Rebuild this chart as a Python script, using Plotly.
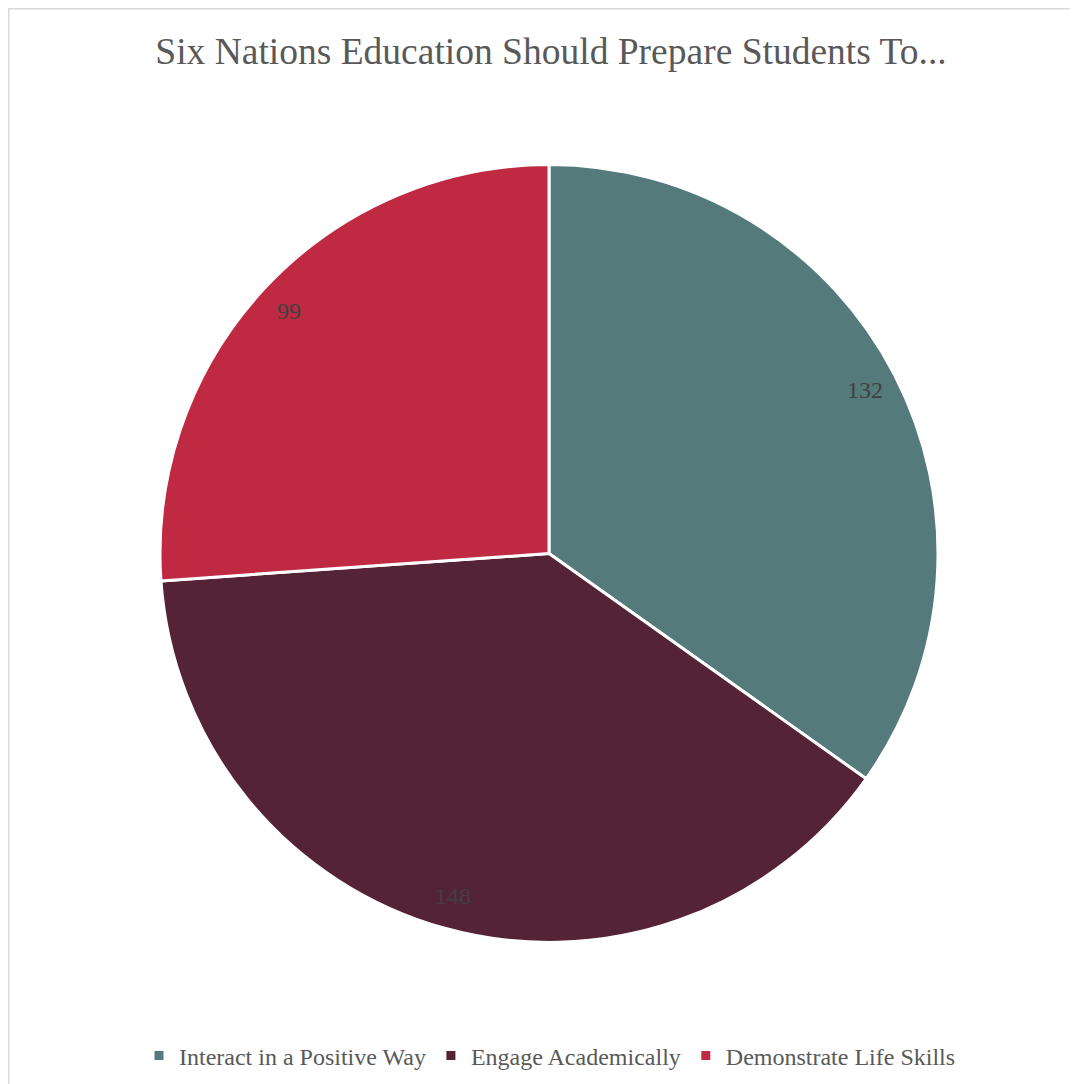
import math
import plotly.graph_objects as go

categories = ["Interact in a Positive Way", "Engage Academically", "Demonstrate Life Skills"]
values = [132, 148, 99]
colors = ["#557A7B", "#552336", "#BF2A42"]

W, H = 1078, 1084
OFF = 8  # page body margin offset
cx, cy, R = 549 - OFF, 553.5 - OFF, 389

dom_x = [(cx - R) / W, (cx + R) / W]
dom_y = [1 - (cy + R) / H, 1 - (cy - R) / H]

fig = go.Figure(go.Pie(
    labels=categories, values=values, sort=False, direction="clockwise", rotation=0,
    marker=dict(colors=colors, line=dict(color="white", width=3)),
    textinfo="none", hoverinfo="label+value",
    domain=dict(x=dom_x, y=dom_y),
))

# value labels near the outer edge at each slice's mid-angle
total = sum(values)
annotations = []
acc = 0
for v in values:
    mid = (acc + v / 2) / total * 2 * math.pi
    acc += v
    r = 0.915 * R
    px = cx + r * math.sin(mid)
    py = cy - r * math.cos(mid)
    annotations.append(dict(
        x=px / W, y=1 - py / H, xref="paper", yref="paper", text=str(v), showarrow=False,
        font=dict(family="Liberation Serif", size=24, color="#404040"),
        xanchor="center", yanchor="middle",
    ))

fig.update_layout(
    width=W, height=H,
    margin=dict(l=0, r=0, t=0, b=0),
    paper_bgcolor="white", plot_bgcolor="white",
    font=dict(family="Liberation Serif", color="#595959"),
    title=dict(text="Six Nations Education Should Prepare Students To...",
               x=(551 - OFF) / W, xanchor="center", y=1 - (51 - OFF) / H, yanchor="middle",
               font=dict(family="Liberation Serif", size=37.5, color="#595959")),
    legend=dict(orientation="h", x=(550 - OFF) / W, xanchor="center", y=1 - (1056 - OFF) / H, yanchor="middle",
                font=dict(family="Liberation Serif", size=24, color="#595959"),
                itemwidth=30, tracegroupgap=0, traceorder="normal"),
    annotations=annotations,
    shapes=[dict(type="rect", xref="paper", yref="paper",
                 x0=0.75 / W, x1=1.02, y0=-0.02, y1=1 - 0.75 / H,
                 line=dict(color="#D9D9D9", width=1.5), fillcolor="rgba(0,0,0,0)", layer="below")],
)

fig.write_html("out.html")
